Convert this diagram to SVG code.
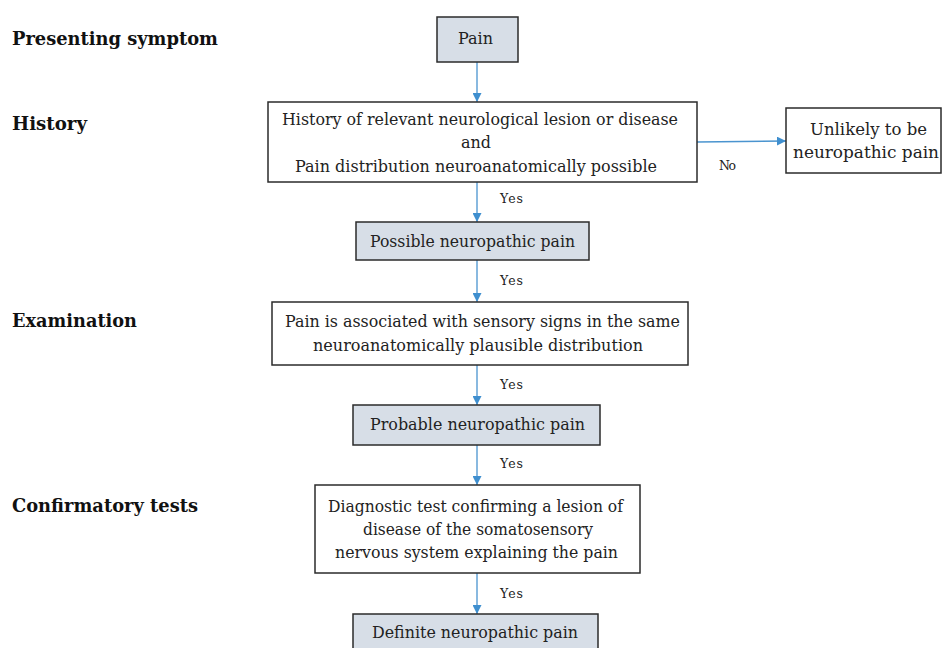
<svg xmlns="http://www.w3.org/2000/svg" width="942" height="648" viewBox="0 0 942 648">
<style>
.box{fill:#ffffff;stroke:#2b2b2b;stroke-width:1.5}
.shaded{fill:#d7dee7;stroke:#2b2b2b;stroke-width:1.5}
.t{font-family:"DejaVu Serif","Liberation Serif",serif;font-size:16.5px;fill:#222}
.s{font-family:"DejaVu Serif","Liberation Serif",serif;font-size:12.5px;fill:#222}
.h{font-family:"DejaVu Serif","Liberation Serif",serif;font-size:18px;font-weight:bold;fill:#111}
.c{stroke:#4a94cf;stroke-width:1.3;fill:none}
</style>
<defs>
<marker id="arr" viewBox="0 0 10 10" refX="10" refY="5" markerWidth="9" markerHeight="9" markerUnits="userSpaceOnUse" orient="auto">
<path d="M0,0 L10,5 L0,10 Z" fill="#3f8fcf"/>
</marker>
</defs>
<rect width="942" height="648" fill="#ffffff"/>

<g id="labels">
<text class="h" x="12" y="45" textLength="206" lengthAdjust="spacingAndGlyphs">Presenting symptom</text>
<text class="h" x="12" y="130" textLength="75" lengthAdjust="spacingAndGlyphs">History</text>
<text class="h" x="12" y="327" textLength="125" lengthAdjust="spacingAndGlyphs">Examination</text>
<text class="h" x="12" y="512" textLength="186" lengthAdjust="spacingAndGlyphs">Confirmatory tests</text>
</g>

<g id="connectors">
<line class="c" x1="477" y1="62" x2="477" y2="102" marker-end="url(#arr)"/>
<line class="c" x1="477" y1="182" x2="477" y2="222" marker-end="url(#arr)"/>
<line class="c" x1="477" y1="260" x2="477" y2="302" marker-end="url(#arr)"/>
<line class="c" x1="477" y1="365" x2="477" y2="405" marker-end="url(#arr)"/>
<line class="c" x1="477" y1="445" x2="477" y2="485" marker-end="url(#arr)"/>
<line class="c" x1="477" y1="573" x2="477" y2="614" marker-end="url(#arr)"/>
<line class="c" x1="697" y1="142" x2="786" y2="141" marker-end="url(#arr)"/>
<text class="s" x="500" y="203" textLength="23">Yes</text>
<text class="s" x="500" y="285" textLength="23">Yes</text>
<text class="s" x="500" y="389" textLength="23">Yes</text>
<text class="s" x="500" y="468" textLength="23">Yes</text>
<text class="s" x="500" y="598" textLength="23">Yes</text>
<text class="s" x="719" y="170" textLength="17">No</text>
</g>

<g id="pain">
<rect class="shaded" x="437" y="17" width="81" height="45"/>
<text class="t" x="458" y="44" textLength="35" lengthAdjust="spacingAndGlyphs">Pain</text>
</g>

<g id="history">
<rect class="box" x="268" y="102" width="429" height="80"/>
<text class="t" x="282" y="125" textLength="396" lengthAdjust="spacingAndGlyphs">History of relevant neurological lesion or disease</text>
<text class="t" x="461" y="148" textLength="30" lengthAdjust="spacingAndGlyphs">and</text>
<text class="t" x="295" y="172" textLength="362" lengthAdjust="spacingAndGlyphs">Pain distribution neuroanatomically possible</text>
</g>

<g id="unlikely">
<rect class="box" x="786" y="108" width="155" height="65"/>
<text class="t" x="810" y="135" textLength="117" lengthAdjust="spacingAndGlyphs">Unlikely to be</text>
<text class="t" x="793" y="158" textLength="146" lengthAdjust="spacingAndGlyphs">neuropathic pain</text>
</g>

<g id="possible">
<rect class="shaded" x="356" y="222" width="233" height="38"/>
<text class="t" x="370" y="247" textLength="205" lengthAdjust="spacingAndGlyphs">Possible neuropathic pain</text>
</g>

<g id="examination">
<rect class="box" x="272" y="302" width="416" height="63"/>
<text class="t" x="285" y="327" textLength="395" lengthAdjust="spacingAndGlyphs">Pain is associated with sensory signs in the same</text>
<text class="t" x="313" y="351" textLength="330" lengthAdjust="spacingAndGlyphs">neuroanatomically plausible distribution</text>
</g>

<g id="probable">
<rect class="shaded" x="353" y="405" width="247" height="40"/>
<text class="t" x="370" y="430" textLength="215" lengthAdjust="spacingAndGlyphs">Probable neuropathic pain</text>
</g>

<g id="diagnostic">
<rect class="box" x="315" y="485" width="325" height="88"/>
<text class="t" x="328" y="512" textLength="295" lengthAdjust="spacingAndGlyphs">Diagnostic test confirming a lesion of</text>
<text class="t" x="363" y="535" textLength="230" lengthAdjust="spacingAndGlyphs">disease of the somatosensory</text>
<text class="t" x="335" y="558" textLength="283" lengthAdjust="spacingAndGlyphs">nervous system explaining the pain</text>
</g>

<g id="definite">
<rect class="shaded" x="353" y="614" width="245" height="40"/>
<text class="t" x="372" y="638" textLength="206" lengthAdjust="spacingAndGlyphs">Definite neuropathic pain</text>
</g>
</svg>
